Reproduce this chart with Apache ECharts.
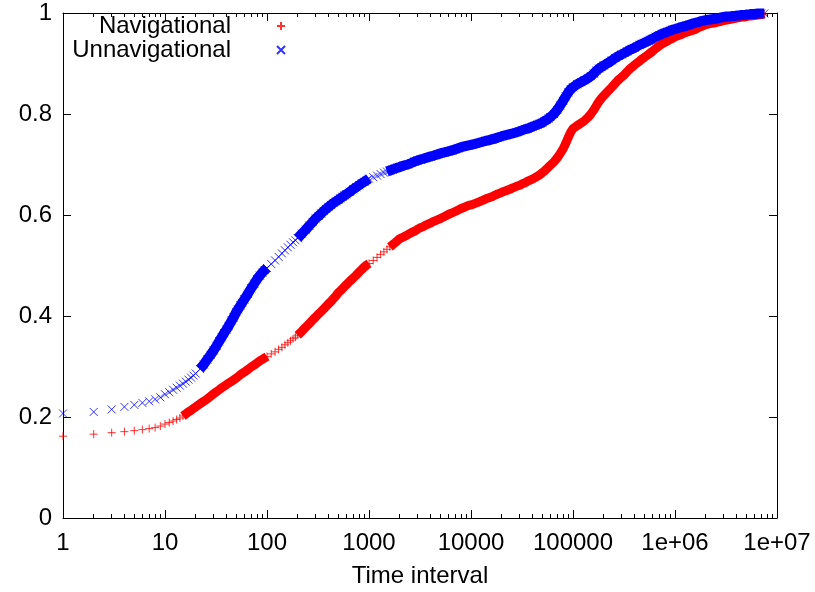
<!DOCTYPE html>
<html>
<head>
<meta charset="utf-8">
<script src="https://cdn.jsdelivr.net/npm/echarts@6/dist/echarts.min.js"></script>
<style>
  html, body { margin: 0; padding: 0; background: #ffffff; }
  #chart { width: 815px; height: 592px; }
</style>
</head>
<body>
<div id="chart"></div>
<script>
// Time intervals at which the cumulative fractions were sampled
const times = [
  1, 2, 3, 4, 5, 6, 7, 8, 9,
  10, 11, 12, 13, 14, 15, 16, 17, 18, 19, 20, 22, 24, 26, 28, 30, 32, 34, 36, 38,
  40, 42, 45, 47, 50, 52, 55, 57, 60, 65, 70, 75, 80, 85, 90, 95,
  100, 110, 120, 130, 140, 150, 160, 170, 180, 190, 200, 220, 240, 260, 280, 300, 320, 340, 360, 380,
  400, 425, 450, 475, 500, 525, 550, 575, 600, 650, 700, 750, 800, 850, 900, 950,
  1000, 1100, 1200, 1300, 1400, 1500, 1600, 1700, 1800, 1900, 2000, 2200, 2400, 2600, 2800, 3000, 3200, 3400, 3600, 3800,
  4000, 4250, 4500, 4750, 5000, 5250, 5500, 5750, 6000, 6500, 7000, 7500, 8000, 8500, 9000, 9500,
  10000, 11000, 12000, 13000, 14000, 15000, 16000, 17000, 18000, 19000, 20000, 22000, 24000, 26000, 28000, 30000, 32000, 34000, 36000, 38000,
  40000, 42500, 45000, 47500, 50000, 52500, 55000, 57500, 60000, 65000, 70000, 75000, 80000, 85000, 90000, 95000,
  100000, 110000, 120000, 130000, 140000, 150000, 160000, 170000, 180000, 190000, 200000, 220000, 240000, 260000, 280000, 300000, 320000, 340000, 360000, 380000,
  400000, 425000, 450000, 475000, 500000, 525000, 550000, 575000, 600000, 650000, 700000, 750000, 800000, 850000, 900000, 950000,
  1000000, 1100000, 1200000, 1300000, 1400000, 1500000, 1600000, 1700000, 1800000, 1900000, 2000000, 2200000, 2400000, 2600000, 2800000, 3000000, 3200000, 3400000, 3600000, 3800000,
  4000000, 4250000, 4500000, 4750000, 5000000, 5250000, 5500000, 5750000, 6000000, 6500000, 7000000, 7500000
];

// Cumulative fraction of navigational intervals
const navigational = [
  0.162, 0.166, 0.169, 0.171, 0.173, 0.175, 0.177, 0.179, 0.182,
  0.186, 0.189, 0.192, 0.195, 0.198, 0.202, 0.206, 0.210, 0.213, 0.217, 0.220, 0.226, 0.231, 0.236, 0.241, 0.246, 0.250, 0.254, 0.258, 0.261,
  0.264, 0.267, 0.271, 0.274, 0.277, 0.280, 0.284, 0.286, 0.289, 0.294, 0.299, 0.303, 0.307, 0.311, 0.314, 0.317,
  0.320, 0.325, 0.329, 0.334, 0.338, 0.343, 0.347, 0.351, 0.355, 0.358, 0.362, 0.370, 0.378, 0.385, 0.392, 0.398, 0.404, 0.409, 0.414, 0.419,
  0.424, 0.429, 0.435, 0.440, 0.446, 0.450, 0.454, 0.458, 0.462, 0.469, 0.475, 0.481, 0.487, 0.492, 0.497, 0.501,
  0.504, 0.510, 0.516, 0.522, 0.527, 0.532, 0.537, 0.541, 0.545, 0.549, 0.553, 0.557, 0.561, 0.565, 0.568, 0.572, 0.575, 0.577, 0.580, 0.582,
  0.584, 0.587, 0.589, 0.591, 0.593, 0.595, 0.597, 0.599, 0.601, 0.604, 0.607, 0.610, 0.613, 0.615, 0.617, 0.619,
  0.620, 0.623, 0.626, 0.629, 0.632, 0.634, 0.636, 0.639, 0.641, 0.643, 0.645, 0.648, 0.651, 0.654, 0.657, 0.659, 0.662, 0.664, 0.667, 0.669,
  0.671, 0.674, 0.677, 0.680, 0.684, 0.687, 0.691, 0.695, 0.698, 0.705, 0.713, 0.722, 0.731, 0.742, 0.754, 0.764,
  0.771, 0.777, 0.782, 0.787, 0.793, 0.800, 0.808, 0.817, 0.825, 0.831, 0.836, 0.845, 0.853, 0.861, 0.868, 0.873, 0.878, 0.884, 0.889, 0.893,
  0.897, 0.901, 0.905, 0.909, 0.912, 0.915, 0.918, 0.921, 0.924, 0.930, 0.935, 0.939, 0.942, 0.945, 0.948, 0.950,
  0.953, 0.956, 0.959, 0.962, 0.964, 0.966, 0.968, 0.971, 0.973, 0.975, 0.977, 0.979, 0.980, 0.982, 0.983, 0.985, 0.986, 0.987, 0.988, 0.989,
  0.990, 0.991, 0.992, 0.992, 0.993, 0.994, 0.994, 0.995, 0.995, 0.996, 0.997, 0.998
];

// Cumulative fraction of unnavigational intervals
const unnavigational = [
  0.207, 0.210, 0.215, 0.220, 0.224, 0.228, 0.231, 0.235, 0.239,
  0.245, 0.249, 0.254, 0.258, 0.262, 0.266, 0.270, 0.274, 0.278, 0.282, 0.286, 0.295, 0.304, 0.314, 0.323, 0.332, 0.341, 0.350, 0.358, 0.366,
  0.373, 0.380, 0.391, 0.397, 0.408, 0.413, 0.421, 0.426, 0.433, 0.444, 0.455, 0.464, 0.473, 0.480, 0.486, 0.491,
  0.495, 0.503, 0.510, 0.517, 0.524, 0.530, 0.536, 0.541, 0.546, 0.550, 0.554, 0.563, 0.571, 0.579, 0.586, 0.593, 0.598, 0.603, 0.608, 0.612,
  0.616, 0.620, 0.624, 0.627, 0.630, 0.633, 0.636, 0.639, 0.641, 0.646, 0.651, 0.655, 0.659, 0.663, 0.666, 0.669,
  0.672, 0.675, 0.678, 0.681, 0.684, 0.686, 0.688, 0.690, 0.692, 0.694, 0.695, 0.698, 0.700, 0.703, 0.706, 0.708, 0.710, 0.711, 0.713, 0.714,
  0.716, 0.717, 0.719, 0.720, 0.722, 0.723, 0.724, 0.725, 0.726, 0.728, 0.730, 0.732, 0.734, 0.736, 0.737, 0.738,
  0.739, 0.741, 0.743, 0.745, 0.747, 0.748, 0.750, 0.751, 0.753, 0.754, 0.756, 0.758, 0.760, 0.762, 0.764, 0.766, 0.768, 0.770, 0.771, 0.773,
  0.775, 0.777, 0.779, 0.781, 0.783, 0.786, 0.788, 0.791, 0.794, 0.800, 0.808, 0.817, 0.826, 0.835, 0.843, 0.849,
  0.853, 0.859, 0.863, 0.867, 0.871, 0.875, 0.880, 0.886, 0.890, 0.893, 0.896, 0.901, 0.906, 0.911, 0.915, 0.918, 0.921, 0.924, 0.927, 0.929,
  0.931, 0.934, 0.937, 0.939, 0.941, 0.943, 0.945, 0.947, 0.949, 0.953, 0.956, 0.959, 0.961, 0.963, 0.965, 0.967,
  0.968, 0.971, 0.973, 0.975, 0.977, 0.979, 0.981, 0.982, 0.984, 0.985, 0.986, 0.987, 0.988, 0.989, 0.991, 0.992, 0.993, 0.993, 0.994, 0.994,
  0.995, 0.995, 0.996, 0.996, 0.997, 0.997, 0.998, 0.998, 0.998, 0.999, 0.999, 0.999
];

const seriesNames = ['Navigational', 'Unnavigational'];
const xTickLabels = ['1', '10', '100', '1000', '10000', '100000', '1e+06', '1e+07'];
const yTickLabels = ['0', '0.2', '0.4', '0.6', '0.8', '1'];
const xAxisTitle = 'Time interval';

const FONT = '"Liberation Sans", Arial, Helvetica, sans-serif';
const FONT_SIZE = 24;
const plusSymbol = 'path://M5,0L5,10M0,5L10,5';
const crossSymbol = 'path://M0,0L10,10M10,0L0,10';

// Where the points pile up so tightly that their markers merge into a solid
// band, a thick stroke through the same points renders that band; it is left
// out where the points are still spaced apart.
const bandLayout = {
  navigational: { start: 15, openings: [[100, 200], [1000, 1600]], width: 9 },
  unnavigational: { start: 22, openings: [[100, 200], [1000, 1500]], width: 10 }
};

const pairs = (ys) => times.map((t, i) => [t, ys[i]]);
function bandPairs(ys, layout) {
  return times.map((t, i) => {
    const open = t < layout.start || layout.openings.some(([a, b]) => t > a && t < b);
    return [t, open ? null : ys[i]];
  });
}

const chart = echarts.init(document.getElementById('chart'), null, { renderer: 'canvas' });

const tickStyle = { color: '#000', width: 1 };

function xAxisDef(pos, showLabels) {
  return {
    type: 'log',
    logBase: 10,
    min: 1,
    max: 10000000,
    interval: 1,
    position: pos,
    name: showLabels ? xAxisTitle : '',
    nameLocation: 'middle',
    nameGap: 46,
    nameTextStyle: { color: '#000', fontFamily: FONT, fontSize: FONT_SIZE },
    axisLine: { show: true, onZero: false, lineStyle: { color: '#000', width: 1 } },
    axisTick: { show: true, inside: true, length: 8, lineStyle: tickStyle },
    minorTick: { show: true, splitNumber: 9, length: 4, lineStyle: tickStyle },
    splitLine: { show: false },
    minorSplitLine: { show: false },
    axisLabel: {
      show: showLabels,
      margin: 13,
      color: '#000',
      fontFamily: FONT,
      fontSize: FONT_SIZE,
      formatter: (v) => xTickLabels[Math.round(Math.log10(v))]
    }
  };
}

function yAxisDef(pos, showLabels) {
  return {
    type: 'value',
    min: 0,
    max: 1,
    interval: 0.2,
    position: pos,
    axisLine: { show: true, onZero: false, lineStyle: { color: '#000', width: 1 } },
    axisTick: { show: true, inside: true, length: 8, lineStyle: tickStyle },
    splitLine: { show: false },
    axisLabel: {
      show: showLabels,
      margin: 11,
      color: '#000',
      fontFamily: FONT,
      fontSize: FONT_SIZE,
      formatter: (v) => yTickLabels[Math.round(v / 0.2)]
    }
  };
}

function legendDef(name, top) {
  return {
    data: [name],
    orient: 'vertical',
    right: 529,
    top: top,
    align: 'right',
    itemWidth: 90,
    itemHeight: 8,
    itemGap: 0,
    padding: 0,
    selectedMode: false,
    textStyle: { color: '#000', fontFamily: FONT, fontSize: FONT_SIZE, padding: 0 }
  };
}

function bandSeries(name, ys, layout, color) {
  return {
    name: name,
    type: 'line',
    xAxisIndex: 0,
    yAxisIndex: 0,
    data: bandPairs(ys, layout),
    showSymbol: false,
    connectNulls: false,
    silent: true,
    lineStyle: { color: color, width: layout.width, cap: 'butt', join: 'round' },
    emphasis: { disabled: true }
  };
}

function pointSeries(name, ys, symbol, color) {
  return {
    name: name,
    type: 'scatter',
    xAxisIndex: 0,
    yAxisIndex: 0,
    data: pairs(ys),
    symbol: symbol,
    symbolSize: 8,
    clip: false,
    silent: true,
    itemStyle: { color: 'rgba(0,0,0,0)', borderColor: color, borderWidth: 1 },
    emphasis: { disabled: true }
  };
}

chart.setOption({
  animation: false,
  backgroundColor: '#ffffff',
  grid: { left: 63, right: 38, top: 13, bottom: 74, containLabel: false, outerBoundsMode: 'none' },
  legend: [legendDef(seriesNames[0], 14), legendDef(seriesNames[1], 38)],
  xAxis: [xAxisDef('bottom', true), xAxisDef('top', false)],
  yAxis: [yAxisDef('left', true), yAxisDef('right', false)],
  series: [
    bandSeries(seriesNames[0] + ' band', navigational, bandLayout.navigational, '#ff0000'),
    pointSeries(seriesNames[0], navigational, plusSymbol, '#ff0000'),
    bandSeries(seriesNames[1] + ' band', unnavigational, bandLayout.unnavigational, '#0000ff'),
    pointSeries(seriesNames[1], unnavigational, crossSymbol, '#0000ff')
  ]
});
</script>
</body>
</html>
